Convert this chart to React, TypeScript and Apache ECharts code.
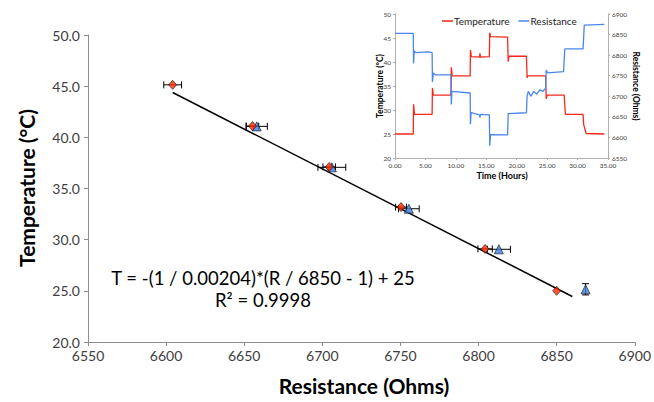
import React, { useEffect, useRef } from "react";
import * as echarts from "echarts";

// ---- Main chart data ----
const redResistance = [6604.2, 6655.3, 6704.4, 6750.4, 6804.2, 6850.0];
const redTemperature = [45.13, 41.1, 37.11, 33.18, 29.1, 25.0];
const redResErr = [5.7, 4.0, 4.0, 3.5, 4.6, 0];

const blueResistance = [6658.0, 6706.1, 6755.4, 6813.0, 6868.5];
const blueTemperature = [41.07, 37.07, 33.02, 29.06, 25.15];
const blueResErr = [6.8, 8.9, 6.6, 7.4, 0];
const blueTempErr = [0, 0, 0, 0, 0.55];

const fitLineRes = [6604.2, 6860.0];
const fitLineTemp = [44.38, 24.45];

const equationText = "T = -(1 / 0.00204)*(R / 6850 - 1) + 25";
const r2Text = "R² = 0.9998";

// ---- Inset data (time in hours) ----
const insetTempTime = [0, 3.0, 3.05, 3.2, 6.1, 6.15, 6.3, 9.2, 9.25, 9.4, 12.35, 12.4, 12.55, 13.9, 13.95, 14.05, 15.5, 15.57, 15.7, 18.5, 18.6, 18.75, 21.6, 21.7, 21.85, 24.75, 24.85, 25.0, 27.8, 28.0, 30.9, 31.0, 31.4, 34.4];
const insetTempValue = [25.0, 25.0, 31.2, 29.1, 29.1, 34.6, 33.1, 33.1, 38.9, 37.1, 37.1, 42.5, 41.1, 41.0, 41.8, 41.0, 41.1, 46.1, 45.3, 45.2, 40.1, 41.2, 41.2, 36.7, 37.1, 37.1, 32.3, 33.1, 33.1, 29.1, 29.1, 27.0, 25.1, 25.0];

const insetResTime = [0, 3.0, 3.05, 3.15, 3.4, 5.5, 6.1, 6.15, 6.3, 6.6, 9.2, 9.25, 9.35, 12.35, 12.4, 12.5, 13.9, 13.95, 14.05, 15.5, 15.57, 15.7, 18.5, 18.6, 21.6, 21.7, 21.9, 22.3, 22.8, 23.3, 23.8, 24.3, 24.75, 24.85, 25.1, 27.7, 27.9, 30.9, 31.1, 34.4];
const insetResValue = [6853, 6853, 6780, 6810, 6806, 6808, 6806, 6735, 6757, 6752, 6752, 6680, 6712, 6708, 6632, 6660, 6655, 6648, 6656, 6655, 6580, 6607, 6606, 6658, 6660, 6700, 6712, 6700, 6712, 6705, 6716, 6712, 6720, 6764, 6757, 6760, 6815, 6815, 6873, 6875];

const FONT = 'Lato, "Open Sans", "DejaVu Sans", sans-serif';

export default function App() {
  const ref = useRef<HTMLDivElement>(null);

  useEffect(() => {
    if (!ref.current) return;
    const chart = echarts.init(ref.current, undefined, { renderer: "svg" });

    const redPoints = redResistance.map((r, i) => [r, redTemperature[i]]);
    const bluePoints = blueResistance.map((r, i) => [r, blueTemperature[i]]);
    const errData = [
      ...redResistance.map((r, i) => [r, redTemperature[i], redResErr[i], 0]),
      ...blueResistance.map((r, i) => [r, blueTemperature[i], blueResErr[i], blueTempErr[i]]),
    ];
    const lineData = fitLineRes.map((r, i) => [r, fitLineTemp[i]]);
    const tempData = insetTempTime.map((t, i) => [t, insetTempValue[i]]);
    const resData = insetResTime.map((t, i) => [t, insetResValue[i]]);

    const axisGray = "#8c8c8c";
    const labelColor = "#404040";
    const plain = (v: number) => String(v);

    const option: any = {
      animation: false,
      backgroundColor: "#ffffff",
      textStyle: { fontFamily: FONT },
      grid: [
        { left: 88, right: 13, top: 35, bottom: 60 },
        { left: 395, top: 14, width: 213, height: 144 },
      ],
      legend: {
        data: ["Temperature", "Resistance"],
        left: 437,
        top: 11,
        icon: "rect",
        itemWidth: 11,
        itemHeight: 1.5,
        itemGap: 9,
        textStyle: { fontFamily: FONT, fontSize: 10, color: "#222", padding: [0, 0, 0, -4] },
      },
      xAxis: [
        {
          gridIndex: 0,
          type: "value",
          min: 6550,
          max: 6900,
          interval: 50,
          axisLine: { show: true, lineStyle: { color: axisGray, width: 1 } },
          axisTick: { show: true, inside: false, length: 4, lineStyle: { color: axisGray } },
          axisLabel: { fontFamily: FONT, fontSize: 14, color: labelColor, margin: 6, formatter: plain },
          splitLine: { show: false },
        },
        {
          gridIndex: 1,
          type: "value",
          min: 0,
          max: 35,
          interval: 5,
          axisLine: { show: true, lineStyle: { color: "#b0b0b0", width: 1 } },
          axisTick: { show: true, length: 2, lineStyle: { color: "#b0b0b0" } },
          axisLabel: { fontFamily: FONT, fontSize: 6.5, color: labelColor, margin: 4, formatter: (v: number) => v.toFixed(2) },
          splitLine: { show: false },
        },
      ],
      yAxis: [
        {
          gridIndex: 0,
          type: "value",
          min: 20,
          max: 50,
          interval: 5,
          axisLine: { show: true, lineStyle: { color: axisGray, width: 1 } },
          axisTick: { show: true, inside: false, length: 4, lineStyle: { color: axisGray } },
          axisLabel: { fontFamily: FONT, fontSize: 14, color: labelColor, margin: 8, formatter: (v: number) => v.toFixed(1) },
          splitLine: { show: false },
        },
        {
          gridIndex: 1,
          type: "value",
          min: 20,
          max: 50,
          interval: 5,
          axisLine: { show: true, lineStyle: { color: "#b0b0b0", width: 1 } },
          axisTick: { show: true, length: 2, lineStyle: { color: "#b0b0b0" } },
          axisLabel: { fontFamily: FONT, fontSize: 6.5, color: labelColor, margin: 4 },
          splitLine: { show: false },
        },
        {
          gridIndex: 1,
          type: "value",
          position: "right",
          min: 6550,
          max: 6900,
          interval: 50,
          axisLine: { show: true, onZero: false, lineStyle: { color: "#b0b0b0", width: 1 } },
          axisTick: { show: true, length: 2, lineStyle: { color: "#b0b0b0" } },
          axisLabel: { fontFamily: FONT, fontSize: 6.5, color: labelColor, margin: 4, formatter: plain },
          splitLine: { show: false },
        },
      ],
      series: [
        {
          type: "line",
          xAxisIndex: 0,
          yAxisIndex: 0,
          data: lineData,
          symbol: "none",
          lineStyle: { color: "#000", width: 1.5 },
          z: 1,
          silent: true,
        },
        {
          type: "custom",
          xAxisIndex: 0,
          yAxisIndex: 0,
          coordinateSystem: "cartesian2d",
          encode: { x: 0, y: 1 },
          data: errData,
          silent: true,
          z: 2,
          renderItem: (params: any, api: any) => {
            const x = api.value(0);
            const y = api.value(1);
            const ex = api.value(2);
            const ey = api.value(3);
            const style = { stroke: "#000", lineWidth: 1, fill: null };
            const children: any[] = [];
            const cap = 3.5;
            if (ex > 0) {
              const l = api.coord([x - ex, y]);
              const r = api.coord([x + ex, y]);
              children.push({ type: "line", shape: { x1: l[0], y1: l[1], x2: r[0], y2: r[1] }, style });
              children.push({ type: "line", shape: { x1: l[0], y1: l[1] - cap, x2: l[0], y2: l[1] + cap }, style });
              children.push({ type: "line", shape: { x1: r[0], y1: r[1] - cap, x2: r[0], y2: r[1] + cap }, style });
            }
            if (ey > 0) {
              const t = api.coord([x, y + ey]);
              const b = api.coord([x, y - ey]);
              children.push({ type: "line", shape: { x1: t[0], y1: t[1], x2: b[0], y2: b[1] }, style });
              children.push({ type: "line", shape: { x1: t[0] - cap, y1: t[1], x2: t[0] + cap, y2: t[1] }, style });
              children.push({ type: "line", shape: { x1: b[0] - cap, y1: b[1], x2: b[0] + cap, y2: b[1] }, style });
            }
            return { type: "group", children };
          },
        },
        {
          type: "scatter",
          xAxisIndex: 0,
          yAxisIndex: 0,
          data: bluePoints,
          symbol: "triangle",
          symbolSize: [9, 9],
          itemStyle: { color: "#3c7ee0", borderColor: "#111", borderWidth: 0.8 },
          z: 3,
          silent: true,
        },
        {
          type: "scatter",
          xAxisIndex: 0,
          yAxisIndex: 0,
          data: redPoints,
          symbol: "diamond",
          symbolSize: [8, 9],
          itemStyle: { color: "#ff2a00", borderColor: "#111", borderWidth: 0.8 },
          z: 4,
          silent: true,
        },
        {
          name: "Temperature",
          type: "line",
          xAxisIndex: 1,
          yAxisIndex: 1,
          data: tempData,
          symbol: "none",
          lineStyle: { color: "#f5281a", width: 1.3 },
          itemStyle: { color: "#f5281a" },
          z: 3,
        },
        {
          name: "Resistance",
          type: "line",
          xAxisIndex: 1,
          yAxisIndex: 2,
          data: resData,
          symbol: "none",
          lineStyle: { color: "#4a86ef", width: 1.3 },
          itemStyle: { color: "#4a86ef" },
          z: 3,
        },
      ],
      graphic: [
        {
          type: "text",
          x: 26,
          y: 188,
          rotation: Math.PI / 2,
          style: { text: "Temperature (°C)", font: `bold 21px ${FONT}`, fill: "#000", align: "center", verticalAlign: "middle" },
        },
        {
          type: "text",
          x: 364,
          y: 385,
          style: { text: "Resistance (Ohms)", font: `bold 21px ${FONT}`, fill: "#000", align: "center", verticalAlign: "middle" },
        },
        {
          type: "text",
          x: 263,
          y: 278,
          style: { text: equationText, font: `18.5px ${FONT}`, fill: "#000", align: "center", verticalAlign: "middle" },
        },
        {
          type: "text",
          x: 263,
          y: 300,
          style: { text: r2Text, font: `18.5px ${FONT}`, fill: "#000", align: "center", verticalAlign: "middle" },
        },
        {
          type: "text",
          x: 380,
          y: 86,
          rotation: Math.PI / 2,
          style: { text: "Temperature (°C)", font: `bold 8.5px ${FONT}`, fill: "#000", align: "center", verticalAlign: "middle" },
        },
        {
          type: "text",
          x: 636,
          y: 86,
          rotation: -Math.PI / 2,
          style: { text: "Resistance (Ohms)", font: `bold 8.5px ${FONT}`, fill: "#000", align: "center", verticalAlign: "middle" },
        },
        {
          type: "text",
          x: 502,
          y: 175,
          style: { text: "Time (Hours)", font: `bold 9px ${FONT}`, fill: "#000", align: "center", verticalAlign: "middle" },
        },
      ],
    };

    chart.setOption(option);
    return () => chart.dispose();
  }, []);

  return (
    <div
      ref={ref}
      style={{ position: "fixed", left: 0, top: 0, width: 654, height: 402, background: "#fff" }}
    />
  );
}
